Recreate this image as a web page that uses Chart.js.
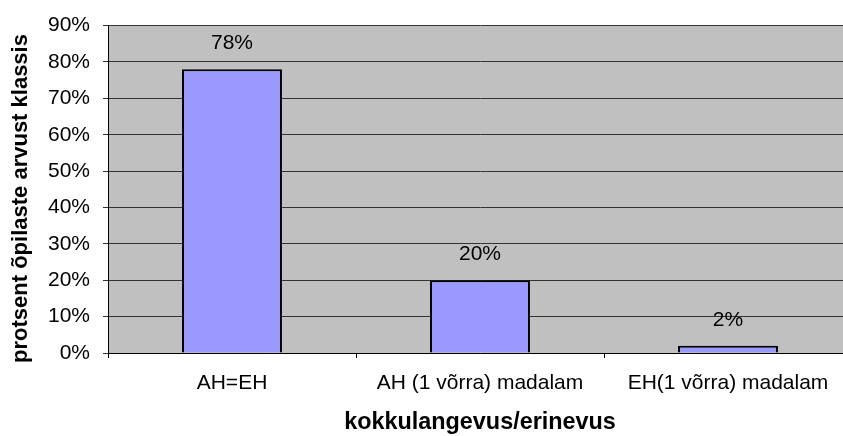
<!DOCTYPE html>
<html><head><meta charset="utf-8">
<script src="https://cdn.jsdelivr.net/npm/chart.js@4/dist/chart.umd.min.js"></script>
<style>html,body{margin:0;padding:0;background:#fff;overflow:hidden}#w{width:853px;height:436px}</style>
</head><body><div id="w"><canvas id="c"></canvas></div>
<script>
const categories = ["AH=EH", "AH (1 võrra) madalam", "EH(1 võrra) madalam"];
const values = [78, 20, 2];
const yTitle = "protsent õpilaste arvust klassis";
const xTitle = "kokkulangevus/erinevus";

const FONT = "'Liberation Sans', Arial, sans-serif";

const bgPlugin = {
  id: 'bg',
  beforeDraw(chart) {
    const a = chart.chartArea, ctx = chart.ctx;
    ctx.save(); ctx.fillStyle = '#C0C0C0';
    ctx.fillRect(a.left, a.top, a.right - a.left, a.bottom - a.top);
    ctx.restore();
  }
};
const labelPlugin = {
  id: 'lbl',
  afterDatasetsDraw(chart) {
    const ctx = chart.ctx;
    const meta = chart.getDatasetMeta(0);
    ctx.save();
    ctx.font = "21px " + FONT;
    ctx.fillStyle = '#000';
    ctx.textAlign = 'center'; ctx.textBaseline = 'middle';
    meta.data.forEach((b, i) => {
      ctx.fillText(values[i] + '%', b.x, b.y - 26);
    });
    ctx.restore();
  }
};
const titlePlugin = {
  id: 'titles',
  afterDraw(chart) {
    const ctx = chart.ctx;
    ctx.save();
    ctx.fillStyle = '#000';
    ctx.textAlign = 'center'; ctx.textBaseline = 'alphabetic';
    ctx.font = "bold 23.4px " + FONT;
    ctx.fillText(xTitle, 480, 429);
    ctx.translate(27, 198.5);
    ctx.rotate(-Math.PI / 2);
    ctx.font = "bold 22px " + FONT;
    ctx.fillText(yTitle, 0, 0);
    ctx.restore();
  }
};

new Chart(document.getElementById('c'), {
  type: 'bar',
  data: { labels: categories, datasets: [{
    data: values, backgroundColor: '#9999FF', borderColor: '#000', borderWidth: 2,
    categoryPercentage: 0.806, barPercentage: 0.5
  }]},
  options: {
    responsive: true, maintainAspectRatio: false, animation: false,
    layout: { padding: { left: 0, right: 1, top: 24, bottom: 0 } },
    plugins: { legend: { display: false }, tooltip: { enabled: false } },
    scales: {
      x: {
        grid: { drawOnChartArea: false, color: '#000', tickLength: 5 },
        border: { color: '#000', width: 1 },
        ticks: { color: '#000', font: { family: FONT, size: 21 }, padding: 13, maxRotation: 0 },
        afterFit(s) { s.height = 83; }
      },
      y: {
        min: 0, max: 90,
        grid: { color: '#333', tickLength: 5 },
        border: { color: '#000', width: 1 },
        ticks: { stepSize: 10, color: '#000', font: { family: FONT, size: 21 }, padding: 13, callback: v => v + '%' },
        afterFit(s) { s.width = 108; }
      }
    }
  },
  plugins: [bgPlugin, labelPlugin, titlePlugin]
});
</script></body></html>
